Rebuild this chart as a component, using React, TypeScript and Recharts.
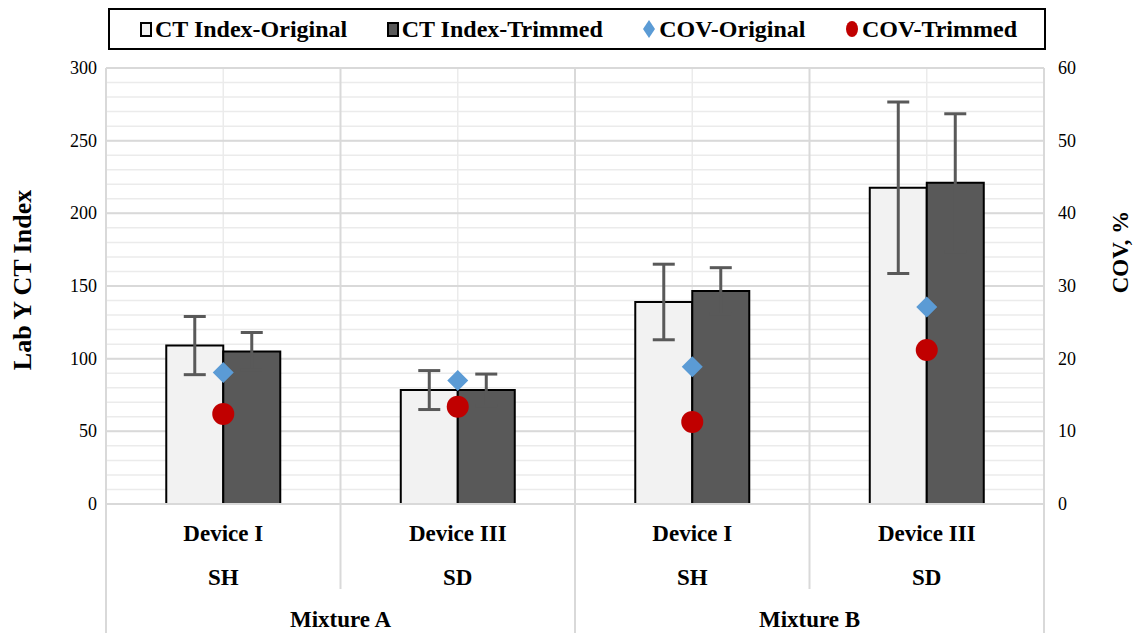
import {
  ComposedChart,
  Bar,
  Line,
  XAxis,
  YAxis,
  CartesianGrid,
  ErrorBar,
} from "recharts";

// values
const devices = ["Device I", "Device III", "Device I", "Device III"];
const sectors = ["SH", "SD", "SH", "SD"];
const mixtures = ["Mixture A", "Mixture A", "Mixture B", "Mixture B"];

const ctOriginal = [109, 78.4, 139, 217.6];
const ctOriginalErr = [20, 13.4, 26, 59];
const ctTrimmed = [105, 78.4, 146.6, 221];
const ctTrimmedErr = [13, 11, 16, 47.5];
const covOriginal = [18.1, 17, 18.9, 27.1];
const covTrimmed = [12.4, 13.4, 11.3, 21.2];

const leftTicks = [0, 50, 100, 150, 200, 250, 300];
const minorTicks = Array.from({ length: 31 }, (_, i) => i * 10);
const rightTicks = [0, 10, 20, 30, 40, 50, 60];

const data = devices.map((d, i) => ({
  device: d,
  sector: sectors[i],
  mixture: mixtures[i],
  ctOriginal: ctOriginal[i],
  ctOriginalErr: ctOriginalErr[i],
  ctTrimmed: ctTrimmed[i],
  ctTrimmedErr: ctTrimmedErr[i],
  covOriginal: covOriginal[i],
  covTrimmed: covTrimmed[i],
}));

const W = 1136;
const H = 633;
const PLOT_LEFT = 106;
const PLOT_RIGHT = 1044;
const PLOT_TOP = 68;
const PLOT_BOTTOM = 504;
const BAND = (PLOT_RIGHT - PLOT_LEFT) / data.length;
const FONT = "Liberation Serif, Times New Roman, serif";
const GRID = "#d9d9d9";
const LABEL_SIZE = 23;

// light grid: every 10 units on the left scale, plus the category centres
const minorRows = minorTicks.map(
  (v) => PLOT_BOTTOM - (v / 300) * (PLOT_BOTTOM - PLOT_TOP)
);
const centreCols = data.map((_, i) => PLOT_LEFT + BAND * (i + 0.5));

function CategoryTick(props: any) {
  const { x, index } = props;
  const i = index as number;
  const left = x - BAND / 2;
  const right = x + BAND / 2;
  const groupStart = i === 0 || mixtures[i] !== mixtures[i - 1];
  const isLast = i === data.length - 1;
  let groupCount = 0;
  if (groupStart) {
    for (let j = i; j < data.length && mixtures[j] === mixtures[i]; j++) groupCount++;
  }
  const txt = { textAnchor: "middle", dominantBaseline: "central", fontFamily: FONT, fontWeight: "bold", fontSize: LABEL_SIZE, fill: "#000" } as const;
  return (
    <g>
      <line x1={left} x2={left} y1={PLOT_TOP} y2={groupStart ? H : 589} stroke={GRID} strokeWidth={2} />
      {isLast && <line x1={right} x2={right} y1={PLOT_TOP} y2={H} stroke={GRID} strokeWidth={2} />}
      <text x={x} y={533} {...txt}>{devices[i]}</text>
      <text x={x} y={577} {...txt}>{sectors[i]}</text>
      {groupStart && (
        <text x={left + (groupCount * BAND) / 2} y={619} {...txt}>
          {mixtures[i]}
        </text>
      )}
    </g>
  );
}

function NumTick(props: any) {
  const { x, y, payload, textAnchor } = props;
  return (
    <text x={x} y={y} textAnchor={textAnchor} dominantBaseline="central" fontFamily={FONT} fontSize={18} fill="#000">
      {payload.value}
    </text>
  );
}

function Diamond(props: any) {
  const { cx, cy } = props;
  if (cx == null || cy == null) return null;
  const r = 10.5;
  return <path d={`M${cx},${cy - r} L${cx + r},${cy} L${cx},${cy + r} L${cx - r},${cy} Z`} fill="#5b9bd5" />;
}

function Dot(props: any) {
  const { cx, cy } = props;
  if (cx == null || cy == null) return null;
  return <circle cx={cx} cy={cy} r={11} fill="#c00000" />;
}

function LegendBox() {
  const item = { display: "flex", alignItems: "center", gap: 3 } as const;
  const square = (fill: string) => (
    <span style={{ width: 8, height: 11, background: fill, border: "2px solid #000", display: "inline-block" }} />
  );
  return (
    <div
      style={{
        position: "absolute",
        left: 108,
        top: 8,
        width: 938,
        height: 42,
        border: "2px solid #000",
        display: "flex",
        alignItems: "center",
        justifyContent: "space-between",
        padding: "0 27px 0 30px",
        boxSizing: "border-box",
        fontFamily: FONT,
        fontWeight: "bold",
        fontSize: 24,
        background: "#fff",
      }}
    >
      <span style={item}>{square("#f2f2f2")}CT Index-Original</span>
      <span style={item}>{square("#595959")}CT Index-Trimmed</span>
      <span style={item}>
        <svg width={14} height={20}>
          <path d="M7,1 L13,10 L7,19 L1,10 Z" fill="#5b9bd5" />
        </svg>
        COV-Original
      </span>
      <span style={item}>
        <svg width={14} height={20}>
          <ellipse cx={7} cy={10} rx={6} ry={8} fill="#c00000" />
        </svg>
        COV-Trimmed
      </span>
    </div>
  );
}

export default function App() {
  const midY = (PLOT_TOP + PLOT_BOTTOM) / 2 - 6;
  return (
    <div style={{ position: "absolute", left: 0, top: 0, width: W, height: H, background: "#fff" }}>
      <ComposedChart
        width={W}
        height={H}
        data={data}
        margin={{ top: PLOT_TOP, right: 0, bottom: 0, left: 0 }}
        barGap={0}
        barCategoryGap="25.7%"
      >
        <CartesianGrid
          yAxisId="left"
          horizontalPoints={minorRows}
          verticalPoints={centreCols}
          stroke="#ebebeb"
          strokeWidth={1.5}
        />
        <CartesianGrid yAxisId="left" vertical={false} stroke={GRID} strokeWidth={2} />
        <XAxis
          dataKey="device"
          height={H - PLOT_BOTTOM}
          tick={<CategoryTick />}
          tickLine={false}
          axisLine={{ stroke: GRID, strokeWidth: 2 }}
          interval={0}
        />
        <YAxis
          yAxisId="left"
          width={PLOT_LEFT}
          domain={[0, 300]}
          ticks={leftTicks}
          tickLine={false}
          axisLine={false}
          tickSize={0}
          tickMargin={9}
          tick={<NumTick />}
          label={{
            content: () => (
              <text
                x={22}
                y={midY}
                transform={`rotate(-90, 22, ${midY})`}
                textAnchor="middle"
                dominantBaseline="central"
                fontFamily={FONT}
                fontWeight="bold"
                fontSize={26}
                fill="#000"
              >
                Lab Y CT Index
              </text>
            ),
          }}
        />
        <YAxis
          yAxisId="right"
          orientation="right"
          width={W - PLOT_RIGHT}
          domain={[0, 60]}
          ticks={rightTicks}
          tickLine={false}
          axisLine={false}
          tickSize={0}
          tickMargin={14}
          tick={<NumTick />}
          label={{
            content: () => (
              <text
                x={1120}
                y={252}
                transform="rotate(-90, 1120, 252)"
                textAnchor="middle"
                dominantBaseline="central"
                fontFamily={FONT}
                fontWeight="bold"
                fontSize={LABEL_SIZE}
                fill="#000"
              >
                COV, %
              </text>
            ),
          }}
        />
        <Bar yAxisId="left" dataKey="ctOriginal" fill="#f2f2f2" stroke="#000" strokeWidth={2} isAnimationActive={false}>
          <ErrorBar dataKey="ctOriginalErr" width={11} strokeWidth={3} stroke="#595959" direction="y" />
        </Bar>
        <Bar yAxisId="left" dataKey="ctTrimmed" fill="#595959" stroke="#000" strokeWidth={2} isAnimationActive={false}>
          <ErrorBar dataKey="ctTrimmedErr" width={11} strokeWidth={3} stroke="#595959" direction="y" />
        </Bar>
        <Line
          yAxisId="right"
          dataKey="covOriginal"
          stroke="none"
          dot={<Diamond />}
          activeDot={false}
          isAnimationActive={false}
        />
        <Line
          yAxisId="right"
          dataKey="covTrimmed"
          stroke="none"
          dot={<Dot />}
          activeDot={false}
          isAnimationActive={false}
        />
      </ComposedChart>
      <LegendBox />
    </div>
  );
}
